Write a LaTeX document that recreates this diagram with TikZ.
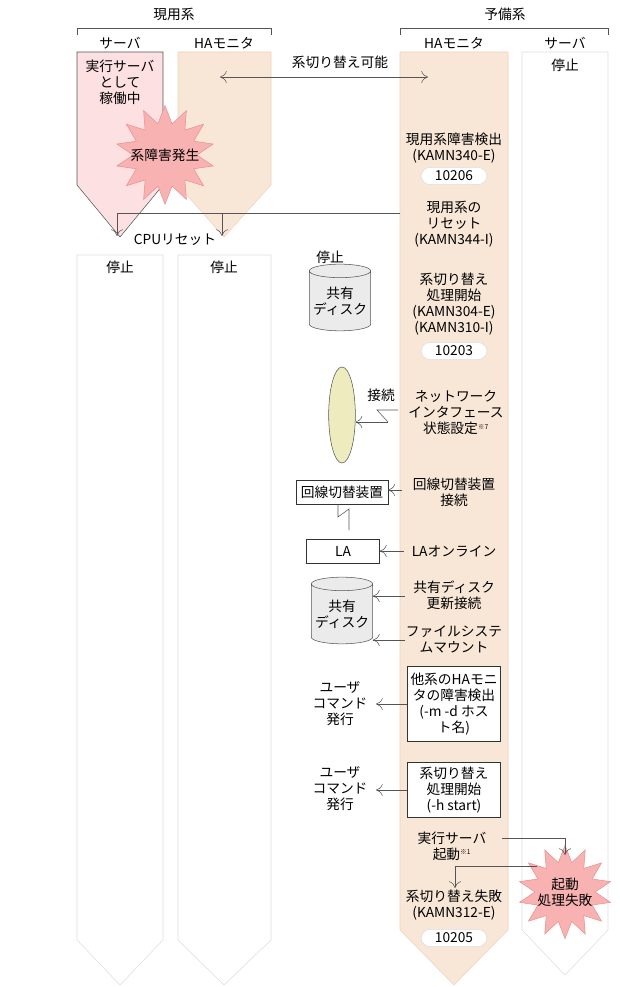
\documentclass[tikz,border=0pt]{standalone}
\usepackage{fontspec}
\setmainfont{Noto Sans CJK JP}
\usetikzlibrary{shapes.geometric,arrows.meta}
\definecolor{pinkf}{HTML}{FDE0E2}
\definecolor{tanf}{HTML}{F8E7D7}
\definecolor{tanb}{HTML}{EFD3BA}
\definecolor{starf}{HTML}{F9B2B2}
\definecolor{starb}{HTML}{E89090}
\definecolor{lg}{HTML}{DDDDDD}
\definecolor{dk}{HTML}{555555}
\tikzset{
 txt/.style={font=\fontsize{10.3}{12}\selectfont, align=center, inner sep=0pt},
 arr/.style={draw=dk, -{To[length=5pt,width=9pt]}},
 ln/.style={draw=dk},
 idbox/.style={draw=lg, fill=white, rounded corners=7pt, minimum width=66pt*0.75, minimum height=13pt, txt},
 sqbox/.style={draw=black!80, fill=white, txt},
 burst/.style={star, star points=14, star point ratio=1.55, fill=starf, draw=starb, inner sep=0pt},
 disk/.style={cylinder, shape border rotate=90, aspect=0.25, draw=dk, fill=black!8, minimum width=46pt, minimum height=50pt, txt},
}
\begin{document}
\begin{tikzpicture}[x=0.75pt,y=-0.75pt]
\useasboundingbox (0,0) rectangle (619,987);
% columns
\draw[draw=dk, fill=pinkf] (77,52) -- (163,52) -- (163,185) -- (120,237) -- (77,185) -- cycle;
\draw[draw=tanb, fill=tanf] (178,52) -- (271,52) -- (271,185) -- (224,237) -- (178,185) -- cycle;
\draw[draw=tanb, fill=tanf] (400,52) -- (508,52) -- (508,930) -- (454,985) -- (400,930) -- cycle;
\draw[draw=lg, fill=white] (522,52) -- (608,52) -- (608,930) -- (565,975) -- (522,930) -- cycle;
\draw[draw=lg, fill=white] (77,255) -- (163,255) -- (163,940) -- (120,985) -- (77,940) -- cycle;
\draw[draw=lg, fill=white] (178,255) -- (271,255) -- (271,940) -- (224,985) -- (178,940) -- cycle;
% headers
\draw[dk] (77,35) -- (77,28) -- (271,28) -- (271,35);
\draw[dk] (400,35) -- (400,28) -- (608,28) -- (608,35);
\node[txt] (h1) at (174,14) {現用系};
\node[txt] (h2) at (505,14) {予備系};
\node[txt] (c1) at (120,43) {サーバ};
\node[txt] (c2) at (224,43) {HAモニタ};
\node[txt] (c3) at (454,43) {HAモニタ};
\node[txt] (c4) at (565,43) {サーバ};
\node[txt] (run) at (120,82) {実行サーバ\\として\\稼働中};
\node[txt] (stop0) at (565,65) {停止};
\node[burst, minimum size=74pt] (fail) at (165,155) {};
\node[txt] (failt) at (165,155) {系障害発生};
\node[txt] (kk) at (340,62) {系切り替え可能};
\coordinate (ka) at (220,77); \coordinate (kb) at (428,77);
\draw[arr, {To[length=5pt,width=9pt]}-{To[length=5pt,width=9pt]}] (ka) -- (kb);
\node[txt] (det) at (454,148) {現用系障害検出\\(KAMN340-E)};
\node[idbox] (id1) at (454,176) {10206};
\node[txt] (rst) at (454,224) {現用系の\\リセット\\(KAMN344-I)};
\coordinate (r0) at (400,213); \coordinate (r1) at (117,213); \coordinate (r2) at (117,236);
\coordinate (r3) at (222,213); \coordinate (r4) at (222,236);
\draw[ln] (r0) -- (r1); \draw[arr] (r1) -- (r2); \draw[arr] (r3) -- (r4);
\node[txt] (cpu) at (175,240) {CPUリセット};
\node[txt] (s1) at (120,267) {停止};
\node[txt] (s2) at (224,267) {停止};
\node[txt] (s3) at (330,257) {停止};
\node[disk] (d1) at (340,301) {共有\\ディスク};
\node[txt] (sw) at (454,304) {系切り替え\\処理開始\\(KAMN304-E)\\(KAMN310-I)};
\node[idbox] (id2) at (454,351) {10203};
% network
\node[ellipse, draw=dk, fill=yellow!25!olive!20, minimum width=20pt, minimum height=72pt] (el) at (342,415) {};
\node[txt] (con) at (381,395) {接続};
\node[txt] (nw) at (456,413) {ネットワーク\\インタフェース\\状態設定\textsuperscript{\tiny ※7}};
\coordinate (z1) at (398,410); \coordinate (z2) at (377,410); \coordinate (z3) at (388,422);
\draw[ln] (z1) -- (z2) -- (z3); \draw[arr] (z3) -- (el.east |- z3);
\node[sqbox, minimum width=69pt, minimum height=18pt] (sb) at (342,492) {回線切替装置};
\node[txt] (sbt) at (454,492) {回線切替装置\\接続};
\draw[arr] (402,490) -- (sb.east |- 0,490);
\coordinate (y1) at (338,517); \coordinate (y2) at (349,509);
\draw[ln] (sb.south -| y1) -- (y1) -- (y2) -- (349,530);
\node[sqbox, minimum width=55pt, minimum height=18pt] (la) at (343,551) {LA};
\node[txt] (lat) at (454,551) {LAオンライン};
\draw[arr] (404,551) -- (la.east);
\node[disk] (d2) at (342,614) {共有\\ディスク};
\node[txt] (upd) at (454,595) {共有ディスク\\更新接続};
\node[txt] (fs) at (454,639) {ファイルシステ\\ムマウント};
\draw[arr] (405,596) -- (d2.east |- 0,596);
\draw[arr] (405,640) -- (d2.east |- 0,640);
\node[sqbox, minimum width=70pt, minimum height=56pt] (b1) at (454,704) {他系のHAモニ\\タの障害検出\\(-m -d ホス\\ト名)};
\node[txt] (u1) at (340,704) {ユーザ\\コマンド\\発行};
\draw[arr] (b1.west) -- (376,704);
\node[sqbox, minimum width=70pt, minimum height=41pt] (b2) at (454,790) {系切り替え\\処理開始\\(-h start)};
\node[txt] (u2) at (340,789) {ユーザ\\コマンド\\発行};
\draw[arr] (b2.west) -- (376,790);
\node[txt] (ex) at (452,846) {実行サーバ\\起動\textsuperscript{\tiny ※1}};
\node[burst, minimum size=70pt] (f2) at (565,892) {};
\node[txt] (f2t) at (565,892) {起動\\処理失敗};
\coordinate (e1) at (502,838); \coordinate (e2) at (565,838);
\draw[ln] (e1) -- (e2); \draw[arr] (e2) -- (565,855);
\coordinate (g1) at (537,866); \coordinate (g2) at (455,866);
\draw[ln] (g1) -- (g2); \draw[arr] (g2) -- (455,888);
\node[txt] (sf) at (454,905) {系切り替え失敗\\(KAMN312-E)};
\node[idbox] (id3) at (454,938) {10205};
\end{tikzpicture}
\end{document}
